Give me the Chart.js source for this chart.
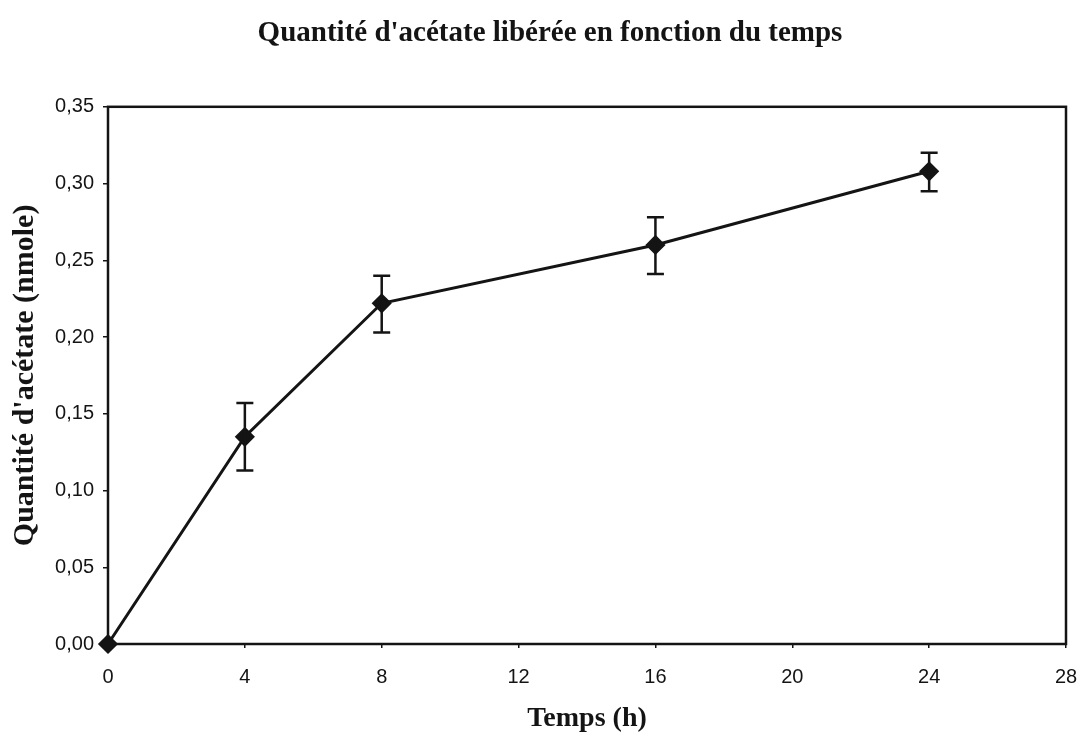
<!DOCTYPE html>
<html>
<head>
<meta charset="utf-8">
<script src="https://cdn.jsdelivr.net/npm/chart.js@4.4.1/dist/chart.umd.min.js"></script>
<style>
  html, body { margin: 0; padding: 0; background: #ffffff; }
  #wrap { width: 1081px; height: 736px; }
</style>
</head>
<body>
<div id="wrap"><canvas id="c" width="1081" height="736"></canvas></div>
<script>
// Temps (h) et quantité d'acétate libérée (nmole), avec écart-type
const hours = [0, 4, 8, 16, 24];
const acetate = [0.000, 0.135, 0.222, 0.260, 0.308];
const errUp = [0.000, 0.022, 0.018, 0.018, 0.012];
const errDown = [0.000, 0.022, 0.019, 0.019, 0.013];

const xTickValues = [0, 4, 8, 12, 16, 20, 24, 28];
const yTickValues = [0, 0.05, 0.10, 0.15, 0.20, 0.25, 0.30, 0.35];
const yTickLabels = ['0,00', '0,05', '0,10', '0,15', '0,20', '0,25', '0,30', '0,35'];

const INK = '#141414';
const serif = '"Liberation Serif", "Times New Roman", serif';
const sans = '"Liberation Sans", Arial, sans-serif';

// Cadre du graphique et barres d'erreur
const frameAndErrors = {
  id: 'frameAndErrors',
  afterDatasetsDraw(chart) {
    const { ctx, chartArea: a, scales: { x, y } } = chart;
    ctx.save();
    ctx.strokeStyle = INK;
    ctx.lineWidth = 2.5;
    ctx.strokeRect(a.left, a.top, a.right - a.left, a.bottom - a.top);

    ctx.lineWidth = 2.5;
    ctx.lineCap = 'butt';
    hours.forEach((h, i) => {
      if (!errUp[i] && !errDown[i]) return;
      const px = x.getPixelForValue(h);
      const top = y.getPixelForValue(acetate[i] + errUp[i]);
      const bot = y.getPixelForValue(acetate[i] - errDown[i]);
      const cap = 8.5;
      ctx.beginPath();
      ctx.moveTo(px, top); ctx.lineTo(px, bot);
      ctx.moveTo(px - cap, top); ctx.lineTo(px + cap, top);
      ctx.moveTo(px - cap, bot); ctx.lineTo(px + cap, bot);
      ctx.stroke();
    });
    ctx.restore();
  }
};

new Chart(document.getElementById('c'), {
  type: 'line',
  data: {
    datasets: [{
      data: hours.map((h, i) => ({ x: h, y: acetate[i] })),
      borderColor: INK,
      backgroundColor: INK,
      borderWidth: 3,
      pointStyle: 'rectRot',
      pointRadius: 8,
      pointHoverRadius: 8,
      pointBackgroundColor: INK,
      pointBorderColor: INK,
      tension: 0,
      clip: false
    }]
  },
  options: {
    responsive: false,
    animation: false,
    events: [],
    layout: { padding: { left: 34, right: 15, top: 0, bottom: 0 } },
    plugins: {
      legend: { display: false },
      tooltip: { enabled: false },
      title: {
        display: true,
        text: "Quantité d'acétate libérée en fonction du temps",
        color: INK,
        font: { family: serif, size: 29, weight: 'bold' },
        padding: { top: 16, bottom: 56 }
      }
    },
    scales: {
      x: {
        type: 'linear',
        min: 0, max: 28,
        afterBuildTicks(s) { s.ticks = xTickValues.map(v => ({ value: v })); },
        ticks: {
          color: INK,
          font: { family: sans, size: 20 },
          padding: 17,
          maxRotation: 0,
          callback: v => String(v)
        },
        grid: { display: true, drawOnChartArea: false, drawTicks: true, tickLength: 4, color: INK, lineWidth: 1.5 },
        border: { display: false },
        title: {
          display: true,
          text: 'Temps (h)',
          color: INK,
          font: { family: serif, size: 28, weight: 'bold' },
          padding: { top: 0, bottom: 0 }
        },
        afterFit(s) {
          s.height = 736 - 644;
          s.paddingLeft = 0;
          s.paddingRight = 0;
        }
      },
      y: {
        type: 'linear',
        min: 0, max: 0.35,
        afterBuildTicks(s) { s.ticks = yTickValues.map(v => ({ value: v })); },
        ticks: {
          color: INK,
          font: { family: sans, size: 20 },
          padding: 9,
          callback: (v) => {
            const i = yTickValues.findIndex(t => Math.abs(t - v) < 1e-9);
            return i >= 0 ? yTickLabels[i] : '';
          }
        },
        grid: { display: true, drawOnChartArea: false, drawTicks: true, tickLength: 5, color: INK, lineWidth: 1.5 },
        border: { display: false },
        title: {
          display: true,
          text: "Quantité d'acétate (nmole)",
          color: INK,
          font: { family: serif, size: 30, weight: 'bold' },
          padding: { top: -27, bottom: 0 }
        },
        afterFit(s) {
          s.width = 108 - 34;
          s.paddingTop = 0;
          s.paddingBottom = 0;
        }
      }
    }
  },
  plugins: [frameAndErrors]
});
</script>
</body>
</html>
